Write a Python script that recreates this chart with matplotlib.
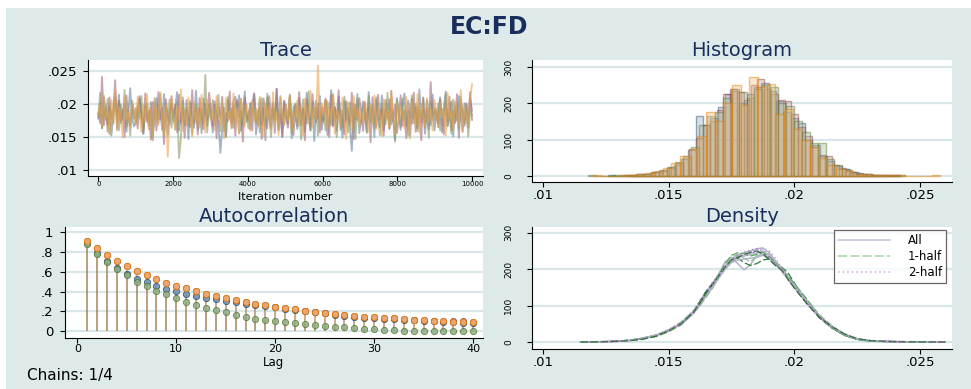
import numpy as np
import matplotlib
matplotlib.use("Agg")
import matplotlib.pyplot as plt
from matplotlib.patches import Rectangle
from matplotlib.lines import Line2D

# ---------------- data ----------------
title = "EC:FD"
chain_names = ["chain 1", "chain 2", "chain 3", "chain 4"]
iter_max = 10000
trace_scale = 1e-4  # trace values typed in units of 1e-4

trace_c1 = [178, 201, 163, 210, 185, 169, 196, 152, 188, 207, 176, 214, 171, 184, 199, 158, 186, 224, 179, 166,
            172, 193, 212, 183, 155, 197, 180, 168, 203, 149, 187, 209, 177, 192, 161, 215, 182, 153, 189, 200,
            174, 196, 218, 160, 181, 205, 168, 191, 147, 202, 184, 164, 220, 179, 194, 156, 208, 183, 167, 198,
            181, 157, 199, 185, 170, 126, 163, 195, 150, 206, 180, 171, 204, 211, 190, 213, 159, 183, 219, 173,
            189, 162, 201, 216, 154, 181, 207, 169, 193, 145, 210, 182, 165, 199, 176, 223, 160, 191, 151, 204,
            183, 170, 214, 148, 197, 181, 162, 209, 175, 193, 158, 217, 184, 166, 203, 144, 195, 178, 212, 161,
            185, 206, 153, 180, 221, 168, 196, 159, 211, 183, 149, 205, 174, 194, 163, 129, 200, 177, 215, 156,
            177, 204, 186, 158, 218, 173, 197, 150, 210, 182, 165, 213, 160, 192, 179, 207, 169, 188, 146, 209,
            183, 161, 200, 216, 167, 189, 152, 208, 178, 196, 163, 222, 172, 190, 155, 206, 185, 168, 214, 160,
            187, 171, 210, 157, 193, 219, 166, 182, 204, 151, 197, 175, 212, 186, 158, 201, 180, 164, 208, 190]
trace_c2 = [186, 171, 241, 168, 197, 158, 210, 179, 189, 236, 162, 205, 174, 192, 150, 213, 183, 167, 201, 178,
            194, 163, 208, 181, 155, 216, 173, 190, 146, 203, 185, 160, 218, 176, 195, 139, 207, 182, 169, 212,
            180, 199, 157, 214, 172, 188, 149, 206, 183, 165, 221, 171, 193, 154, 209, 186, 162, 200, 177, 217,
            191, 166, 204, 148, 196, 181, 211, 159, 187, 174, 219, 164, 198, 152, 206, 179, 190, 143, 210, 184,
            175, 202, 160, 215, 183, 169, 194, 147, 208, 188, 163, 212, 178, 196, 156, 223, 171, 185, 150, 205,
            182, 164, 211, 176, 153, 199, 186, 218, 168, 193, 145, 207, 180, 160, 215, 189, 172, 201, 157, 196,
            173, 208, 185, 150, 213, 166, 194, 179, 221, 161, 190, 154, 204, 183, 168, 217, 147, 198, 175, 209,
            188, 159, 202, 171, 196, 142, 210, 181, 165, 214, 177, 193, 152, 206, 186, 163, 220, 174, 199, 156,
            179, 213, 167, 190, 148, 205, 184, 170, 217, 158, 196, 181, 145, 209, 173, 192, 162, 233, 178, 187,
            192, 165, 207, 183, 154, 198, 175, 211, 160, 189, 171, 215, 149, 203, 186, 167, 201, 180, 218, 176]
trace_c3 = [181, 217, 164, 193, 176, 208, 155, 189, 170, 214, 183, 160, 199, 175, 221, 166, 190, 152, 205, 186,
            169, 196, 178, 212, 158, 187, 201, 163, 194, 145, 209, 180, 171, 215, 188, 153, 198, 174, 207, 164,
            190, 161, 203, 118, 148, 210, 176, 195, 167, 204, 154, 185, 199, 161, 175, 192, 173, 244, 157, 200,
            177, 206, 168, 189, 214, 159, 197, 182, 151, 211, 178, 193, 164, 202, 186, 156, 208, 170, 195, 180,
            163, 200, 186, 194, 172, 191, 157, 209, 179, 167, 216, 184, 150, 203, 175, 194, 162, 212, 181, 168,
            198, 173, 210, 155, 187, 201, 166, 192, 146, 207, 183, 170, 219, 160, 195, 178, 205, 152, 188, 174,
            185, 160, 204, 192, 168, 214, 176, 150, 199, 183, 166, 211, 188, 157, 202, 173, 193, 147, 208, 181,
            170, 197, 184, 156, 212, 175, 190, 163, 206, 180, 153, 201, 187, 169, 217, 162, 194, 178, 143, 206,
            189, 165, 208, 177, 196, 152, 185, 213, 171, 200, 159, 191, 179, 210, 164, 186, 149, 203, 175, 195,
            176, 201, 160, 193, 182, 215, 168, 188, 155, 207, 173, 196, 162, 211, 184, 170, 199, 151, 190, 183]
trace_c4 = [184, 200, 166, 213, 178, 191, 154, 206, 172, 219, 160, 195, 183, 149, 209, 176, 187, 163, 202, 190,
            170, 211, 183, 158, 198, 174, 215, 161, 193, 147, 204, 185, 167, 218, 179, 154, 199, 120, 190, 208,
            181, 162, 197, 176, 222, 159, 191, 168, 210, 184, 151, 203, 172, 195, 164, 214, 180, 157, 206, 187,
            175, 196, 161, 212, 183, 168, 201, 148, 209, 178, 190, 163, 216, 171, 194, 155, 207, 186, 166, 199,
            188, 159, 205, 174, 193, 166, 211, 182, 150, 201, 179, 196, 161, 218, 173, 188, 153, 210, 184, 169,
            198, 175, 214, 160, 191, 180, 205, 167, 196, 152, 208, 185, 171, 220, 164, 193, 178, 258, 169, 201,
            182, 207, 163, 195, 176, 216, 155, 190, 183, 168, 209, 174, 147, 203, 187, 161, 212, 179, 194, 166,
            189, 172, 204, 181, 158, 199, 170, 213, 162, 195, 184, 151, 207, 176, 192, 165, 218, 180, 155, 201,
            174, 196, 184, 163, 211, 178, 148, 203, 189, 169, 215, 157, 198, 181, 166, 209, 175, 192, 160, 206,
            186, 165, 201, 179, 192, 152, 217, 176, 190, 161, 204, 183, 170, 221, 158, 196, 181, 166, 208, 230]

# histogram: per chain, first bin edge, bin width and density heights (40 bins)
hist_start = [0.0126, 0.0134, 0.0118, 0.0120]
hist_width = [0.000290, 0.000270, 0.000315, 0.000345]
hist_c1 = [1, 0, 1, 2, 4, 6, 10, 14, 22, 30, 45, 70, 165, 140, 160, 190, 225, 235, 200, 225,
           245, 255, 235, 205, 175, 160, 145, 100, 85, 55, 40, 28, 18, 11, 7, 4, 2, 1, 1, 1]
hist_c2 = [2, 3, 5, 8, 10, 15, 25, 35, 50, 75, 105, 140, 150, 180, 225, 240, 230, 210, 250, 268,
           240, 225, 208, 205, 170, 135, 110, 80, 58, 55, 30, 22, 15, 10, 6, 4, 2, 1, 1, 1]
hist_c3 = [1, 0, 0, 1, 1, 2, 4, 6, 11, 16, 25, 38, 55, 80, 140, 165, 175, 215, 238, 232,
           215, 240, 250, 245, 200, 192, 150, 120, 90, 90, 45, 30, 18, 10, 6, 3, 2, 1, 0, 1]
hist_c4 = [2, 0, 0, 1, 3, 5, 9, 13, 22, 35, 55, 75, 110, 175, 150, 200, 250, 195, 272, 245,
           252, 170, 185, 130, 100, 80, 50, 30, 18, 12, 6, 4, 2, 1, 2, 1, 0, 0, 0, 1]

# autocorrelation by lag
lags = list(range(1, 41))
ac_c1 = [.89, .79, .71, .64, .58, .53, .495, .46, .43, .405, .38, .355, .335, .32, .30, .29, .275, .265, .25, .24,
         .225, .215, .20, .19, .18, .165, .155, .145, .135, .13, .125, .12, .115, .11, .105, .10, .095, .09, .085, .085]
ac_c2 = [.91, .845, .775, .71, .655, .605, .565, .525, .49, .46, .435, .405, .38, .355, .335, .315, .295, .275, .26, .245,
         .23, .22, .205, .195, .185, .175, .165, .155, .145, .14, .135, .13, .12, .115, .11, .105, .10, .10, .10, .095]
ac_c3 = [.88, .78, .70, .63, .57, .50, .455, .41, .37, .33, .295, .265, .235, .21, .19, .165, .145, .125, .11, .10,
         .09, .08, .075, .065, .055, .045, .04, .035, .025, .02, .015, .01, .005, 0, -.005, -.005, -.005, -.005, -.005, 0]
ac_c4 = [.91, .84, .77, .71, .655, .605, .565, .525, .49, .46, .435, .405, .38, .355, .335, .315, .295, .275, .26, .245,
         .23, .22, .205, .195, .185, .175, .165, .155, .145, .14, .135, .13, .12, .115, .11, .105, .10, .095, .09, .09]

# kernel densities evaluated at dens_x
dens_x = [.0115, .012, .0125, .013, .0135, .014, .0145, .015, .0155, .016, .01625, .0165, .01675, .017, .01725, .0175,
          .01775, .018, .01825, .0185, .01875, .019, .01925, .0195, .01975, .02, .0205, .021, .0215, .022, .0225, .023,
          .0235, .024, .025, .026]
dens_all = [
    [0, .5, 1, 2, 4, 9, 17, 30, 48, 80, 108, 135, 160, 188, 220, 232, 215, 198, 212, 236, 240, 232, 215, 198, 175, 150, 108, 68, 40, 19, 8, 3, 2, 1, .3, 0],
    [0, .4, 1, 2, 5, 11, 19, 33, 52, 85, 110, 138, 162, 185, 208, 228, 240, 245, 250, 256, 258, 245, 222, 200, 176, 152, 108, 70, 41, 21, 8, 3, 2, 1, .3, 0],
    [0, .5, 1, 2, 5, 10, 18, 31, 50, 83, 104, 128, 152, 178, 203, 222, 232, 236, 240, 244, 250, 238, 221, 201, 180, 158, 112, 71, 40, 20, 8, 3, 2, 1, .3, 0],
    [0, .5, 1, 2, 4, 10, 18, 32, 49, 79, 102, 127, 150, 176, 200, 218, 225, 228, 230, 232, 238, 230, 212, 195, 175, 153, 111, 72, 42, 21, 9, 4, 2, 1, .3, 0]]
dens_half1 = [
    [0, 1, 1, 2, 5, 12, 20, 33, 55, 86, 108, 128, 150, 175, 210, 235, 240, 230, 220, 235, 248, 240, 218, 193, 170, 150, 115, 75, 45, 22, 8, 3, 1, 1, .2, 0],
    [0, .5, 1, 2, 6, 10, 17, 30, 52, 84, 112, 140, 160, 178, 200, 222, 230, 218, 210, 215, 225, 228, 212, 205, 190, 162, 110, 66, 38, 18, 7, 3, 2, 1, .2, 0],
    [0, .5, 1, 3, 5, 9, 15, 28, 47, 80, 100, 124, 148, 185, 215, 238, 245, 242, 236, 240, 246, 234, 218, 196, 182, 160, 118, 72, 38, 18, 7, 2, 1, 1, .2, 0],
    [0, .3, 1, 2, 4, 8, 16, 31, 50, 82, 106, 135, 158, 182, 206, 225, 232, 240, 246, 250, 242, 226, 210, 198, 172, 148, 105, 68, 42, 22, 9, 4, 2, 1, .2, 0]]
dens_half2 = [
    [0, .5, 1, 2, 5, 11, 19, 34, 53, 88, 115, 140, 165, 185, 210, 222, 232, 238, 245, 252, 258, 250, 230, 205, 180, 155, 108, 66, 38, 19, 8, 3, 2, 1, .5, .5],
    [0, .5, 1, 2, 4, 9, 18, 33, 51, 86, 110, 135, 160, 183, 207, 225, 238, 246, 252, 256, 250, 236, 218, 197, 173, 150, 104, 66, 40, 20, 8, 3, 2, 1, .5, .5],
    [0, .5, 1, 2, 5, 10, 19, 32, 50, 82, 104, 128, 155, 180, 203, 222, 232, 238, 242, 250, 255, 244, 225, 202, 176, 150, 108, 70, 42, 21, 9, 4, 2, 1, .5, .5],
    [0, .5, 1, 2, 5, 10, 18, 31, 49, 80, 105, 132, 158, 182, 206, 226, 236, 240, 244, 248, 244, 232, 215, 196, 174, 152, 110, 71, 41, 20, 8, 3, 2, 1, .5, .5]]
legend_labels = ["All", "1-half", "2-half"]

value_ticks = [0.01, 0.015, 0.02, 0.025]
value_tick_labels = [".01", ".015", ".02", ".025"]
iter_ticks = [0, 2000, 4000, 6000, 8000, 10000]
freq_ticks = [0, 100, 200, 300]
ac_yticks = [0, 0.2, 0.4, 0.6, 0.8, 1.0]
ac_ytick_labels = ["0", ".2", ".4", ".6", ".8", "1"]
lag_ticks = [0, 10, 20, 30, 40]
footnote = "Chains: 1/4"

# ---------------- style ----------------
W, H = 971, 389
BG = "#deeaea"
GRID = "#dae7e8"
NAVY = "#1a2e5c"
chain_colors = ["#1a476f", "#90353b", "#55752f", "#e37e00"]
hist_fill = ["#8ea6bd", "#c39aa0", "#a3b592", "#f1b872"]
trace_colors = ["#6a82a0", "#a86a78", "#8a9a6a", "#e8a450"]
stem_colors = ["#7a7060", "#a06a50", "#8a8050", "#c08a50"]
ac_marker_colors = ["#6f8fb0", "#d7a0a8", "#8fae84", "#f0a868"]
all_color = "#b0b5c9"
half1_colors = ["#8fca8f", "#2e7d3a", "#5fa862", "#1f6b2b"]
half2_colors = ["#c99ad3", "#b07ac0", "#d0a8d8", "#a070b0"]

plt.rcParams["font.family"] = ["DejaVu Sans"]

fig = plt.figure(figsize=(W / 100, H / 100), dpi=100)
fig.patch.set_facecolor("white")
fig.add_artist(Rectangle((6 / W, 0), 1 - 6 / W, 1 - 8 / H, transform=fig.transFigure,
                         facecolor=BG, edgecolor="none", zorder=0))


def px_axes(l, t, r, b):
    return fig.add_axes([l / W, 1 - b / H, (r - l) / W, (b - t) / H])


def fx(x):
    return x / W


def fy(y):
    return 1 - y / H


def style_axes(ax):
    ax.set_facecolor("white")
    for s in ("top", "right"):
        ax.spines[s].set_visible(False)
    for s in ("left", "bottom"):
        ax.spines[s].set_color("black")
        ax.spines[s].set_linewidth(0.8)
    ax.set_axisbelow(True)
    ax.yaxis.grid(True, color=GRID, lw=1.6)
    ax.xaxis.grid(False)
    ax.tick_params(direction="out", length=3.5, width=0.8, color="black")


# ---- Trace ----
ax1 = px_axes(88, 60, 483, 176)
style_axes(ax1)
for vals, c in zip([trace_c1, trace_c2, trace_c3, trace_c4], trace_colors):
    v = np.array(vals) * trace_scale
    it = np.linspace(0, iter_max, len(v))
    ax1.plot(it, v, color=c, lw=1.35, alpha=0.6)
ax1.set_xlim(-275, 10294)
ax1.set_ylim(0.00909, 0.02667)
ax1.set_yticks(value_ticks)
ax1.set_yticklabels(value_tick_labels, fontsize=9.5)
ax1.set_xticks(iter_ticks)
ax1.set_xticklabels([str(t) for t in iter_ticks], fontsize=5)
ax1.tick_params(axis="y", pad=4)
ax1.tick_params(axis="x", pad=0.3)

# ---- Histogram ----
ax2 = px_axes(532, 60, 952, 182)
style_axes(ax2)
for st, w, hh, c, fc in zip(hist_start, hist_width, [hist_c1, hist_c2, hist_c3, hist_c4], chain_colors, hist_fill):
    lefts = st + w * np.arange(len(hh))
    ax2.bar(lefts, hh, width=w, align="edge", facecolor=matplotlib.colors.to_rgba(fc, 0.35),
            edgecolor=matplotlib.colors.to_rgba(c, 0.45), linewidth=1.0)
ax2.set_xlim(0.00957, 0.02627)
ax2.set_ylim(-17, 319)
ax2.set_xticks(value_ticks)
ax2.set_xticklabels(value_tick_labels, fontsize=9.5)
ax2.set_yticks(freq_ticks)
ax2.set_yticklabels([str(t) for t in freq_ticks], fontsize=6.5, rotation=90, va="center")
ax2.tick_params(axis="y", pad=10)
ax2.tick_params(axis="x", pad=1.5)

# ---- Autocorrelation ----
ax3 = px_axes(65, 227, 483, 338)
style_axes(ax3)
for vals, c in zip([ac_c1, ac_c2, ac_c3, ac_c4], stem_colors):
    ax3.vlines(lags, 0, vals, color=c, lw=1.1, alpha=0.35)
for vals, c, mc in zip([ac_c1, ac_c2, ac_c3, ac_c4], chain_colors, ac_marker_colors):
    ax3.plot(lags, vals, "o", ms=4.5, color=mc, alpha=0.85, mec=matplotlib.colors.to_rgba(c, 0.3), mew=0.6)
ax3.set_xlim(-1.24, 41.0)
ax3.set_ylim(-0.071, 1.054)
ax3.set_yticks(ac_yticks)
ax3.set_yticklabels(ac_ytick_labels, fontsize=9.5)
ax3.set_xticks(lag_ticks)
ax3.set_xticklabels([str(t) for t in lag_ticks], fontsize=8)
ax3.tick_params(axis="y", pad=5)
ax3.tick_params(axis="x", pad=0.5)

# ---- Density ----
ax4 = px_axes(532, 227, 952, 349)
style_axes(ax4)
for i in range(4):
    ax4.plot(dens_x, dens_all[i], color=all_color, lw=1.1, ls="-")
    ax4.plot(dens_x, dens_half1[i], color=half1_colors[i], lw=0.9, ls=(0, (6, 2)))
    ax4.plot(dens_x, dens_half2[i], color=half2_colors[i], lw=1.0, ls=(0, (1, 2)))
ax4.set_xlim(0.00957, 0.02627)
ax4.set_ylim(-19.2, 315.6)
ax4.set_xticks(value_ticks)
ax4.set_xticklabels(value_tick_labels, fontsize=9.5)
ax4.set_yticks(freq_ticks)
ax4.set_yticklabels([str(t) for t in freq_ticks], fontsize=6.5, rotation=90, va="center")
ax4.tick_params(axis="y", pad=10)
ax4.tick_params(axis="x", pad=1.2)
handles = [Line2D([], [], color="#c0c4d4", lw=1.1, ls="-"),
           Line2D([], [], color="#a5d6a7", lw=1.1, ls=(0, (6, 2))),
           Line2D([], [], color="#d0a0d8", lw=1.1, ls=(0, (1, 2)))]
leg = ax4.legend(handles, legend_labels, loc="upper right", bbox_to_anchor=(946 / W, 1 - 230 / H),
                 bbox_transform=fig.transFigure, borderaxespad=0, fontsize=8.5, frameon=True, fancybox=False,
                 handlelength=4.4, handletextpad=1.5, labelspacing=0.25, borderpad=0.35)
leg.get_frame().set_edgecolor("#404040")
leg.get_frame().set_linewidth(0.9)
leg.get_frame().set_facecolor("white")

# ---- texts ----
fig.text(fx(489), fy(26.5), title, ha="center", va="center", fontsize=17, fontweight="bold", color=NAVY)
fig.text(fx(285.5), fy(50), "Trace", ha="center", va="center", fontsize=14, color=NAVY)
fig.text(fx(742), fy(50), "Histogram", ha="center", va="center", fontsize=14, color=NAVY)
fig.text(fx(274), fy(216.5), "Autocorrelation", ha="center", va="center", fontsize=14, color=NAVY)
fig.text(fx(742), fy(216.5), "Density", ha="center", va="center", fontsize=14, color=NAVY)
fig.text(fx(285.5), fy(196.5), "Iteration number", ha="center", va="center", fontsize=8, color="black")
fig.text(fx(274), fy(362.5), "Lag", ha="center", va="center", fontsize=8.5, color="black")
fig.text(fx(27), fy(375.5), footnote, ha="left", va="center", fontsize=11, color="black")

fig.savefig("out.png", dpi=100, facecolor=fig.get_facecolor())
